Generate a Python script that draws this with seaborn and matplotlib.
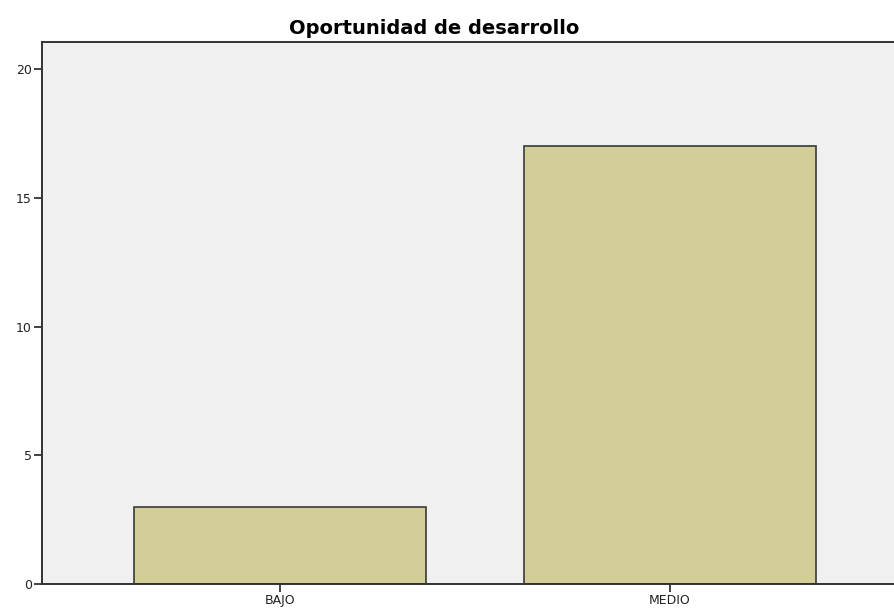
import matplotlib
matplotlib.use("Agg")
import matplotlib.pyplot as plt
import seaborn as sns
import pandas as pd

categories = ["BAJO", "MEDIO"]
counts = [3, 17]
y_ticks = [0, 5, 10, 15, 20]

df = pd.DataFrame({"nivel": categories, "recuento": counts})

sns.set_style("ticks")
plt.rcParams["font.family"] = ["DejaVu Sans"]

fig = plt.figure(figsize=(8.95, 6.1), dpi=100)
ax = fig.add_axes([0.047, 0.0426, 0.953, 0.8885])
ax.set_facecolor("#f0f0f0")

sns.barplot(data=df, x="nivel", y="recuento", color="#d3ce97", width=0.75,
            edgecolor="#3a3a3a", linewidth=1.2, saturation=1, ax=ax)

ax.set_xlim(-0.61, 1.577)
ax.set_ylim(0, 21.05)
ax.set_yticks(y_ticks)
ax.set_xlabel("")
ax.set_ylabel("")
ax.set_title("Oportunidad de desarrollo", fontsize=14, fontweight="bold",
             pad=6, x=0.46, color="#000000")

ax.tick_params(axis="both", labelsize=9, length=6, width=1.2, color="#222222",
               pad=1.5, direction="out", labelcolor="#222222")
for side in ["left", "bottom", "top"]:
    ax.spines[side].set_color("#333333")
    ax.spines[side].set_linewidth(1.4)
ax.spines["right"].set_visible(False)

fig.savefig("out.png", dpi=100)
